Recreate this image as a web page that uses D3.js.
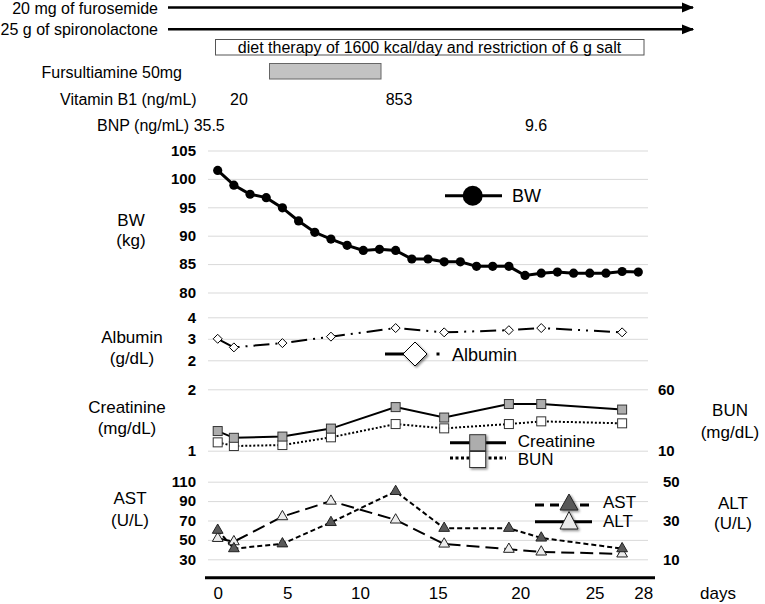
<!DOCTYPE html>
<html><head><meta charset="utf-8">
<script src="https://cdn.jsdelivr.net/npm/d3@7/dist/d3.min.js"></script>
<style>
body{margin:0;background:#fff}
svg{display:block}
text{font-family:"Liberation Sans",Arial,Helvetica,sans-serif;fill:#000}
</style>
</head><body>
<svg id="chart" width="765" height="604"></svg>
<script>
// ---------- data ----------
const sampleIdx = [0,1,2,3,4,5,6,7,8,9,10,11,12,13,14,15,16,17,18,19,20,21,22,23,24,25,26];
const bwValues  = [101.5,98.9,97.3,96.7,94.9,92.6,90.6,89.4,88.3,87.4,87.6,87.4,85.9,85.9,85.4,85.4,84.6,84.6,84.6,83.0,83.4,83.6,83.4,83.4,83.4,83.7,83.6];
const labIdx     = [0,1,4,7,11,14,18,20,25];
const albumin    = [3.0,2.6,2.8,3.1,3.5,3.3,3.4,3.5,3.3];
const creatinine = [1.32,1.21,1.23,1.36,1.71,1.54,1.76,1.76,1.67];
const bun        = [16.8,13.8,14.6,20.9,31.7,28.2,31.7,33.9,32.3];
const ast        = [60,41,46,68,100,62,62,52,41];
const alt        = [20.8,19.1,32,40,30.3,17.9,15.2,13.8,12.8];
const dayTicks   = ["0","5","10","15","20","25","28"];
const dayTickAt  = [0,4.3,8.8,13.6,18.7,23.3,26.3];   // in sample-index units
const bwTicks  = [80,85,90,95,100,105];
const albTicks = [2,3,4];
const crTicks  = [1,2];
const bunTicks = [10,60];
const astTicks = [30,50,70,90,110];
const altTicks = [10,30,50];

// ---------- setup ----------
const svg = d3.select("#chart");
const defs = svg.append("defs");
const flt = defs.append("filter").attr("id","sh").attr("x","-30%").attr("y","-30%").attr("width","170%").attr("height","170%");
flt.append("feDropShadow").attr("dx",1.5).attr("dy",1.5).attr("stdDeviation",1).attr("flood-opacity",0.45);
const mk = defs.append("marker").attr("id","arr").attr("viewBox","0 0 10 10").attr("refX",9).attr("refY",5)
  .attr("markerWidth",5).attr("markerHeight",5).attr("orient","auto").attr("markerUnits","strokeWidth");
mk.append("path").attr("d","M0,1 L10,5 L0,9 Z").attr("fill","#000");

const gL = 208, gR = 648;
const x = d3.scaleLinear().domain([0,26]).range([217.7,638.3]);
const yBW  = d3.scaleLinear().domain([80,105]).range([292.5,150.5]);
const yAlb = d3.scaleLinear().domain([2,4]).range([360.3,317.3]);
const yCr  = d3.scaleLinear().domain([1,2]).range([450.7,389.3]);
const yBun = d3.scaleLinear().domain([10,60]).range([450.7,389.3]);
const yAst = d3.scaleLinear().domain([30,110]).range([559.3,481.7]);
const yAlt = d3.scaleLinear().domain([10,50]).range([559.3,481.7]);

function leftAxis(scale, ticks){
  const g = svg.append("g").attr("transform",`translate(${gL},0)`)
    .call(d3.axisLeft(scale).tickValues(ticks).tickSize(-(gR-gL)).tickPadding(12).tickFormat(d3.format("d")));
  g.select(".domain").remove();
  g.selectAll(".tick line").attr("stroke","#d9d9d9").attr("stroke-width",1);
  g.selectAll(".tick text").attr("font-size",15).attr("font-weight","bold")
    .attr("font-family",'"Liberation Sans",Arial,sans-serif').attr("fill","#000");
}
function rightAxis(scale, ticks, pad){
  const g = svg.append("g").attr("transform",`translate(${gR},0)`)
    .call(d3.axisRight(scale).tickValues(ticks).tickSize(0).tickPadding(pad).tickFormat(d3.format("d")));
  g.select(".domain").remove();
  g.selectAll(".tick text").attr("font-size",15).attr("font-weight","bold")
    .attr("font-family",'"Liberation Sans",Arial,sans-serif').attr("fill","#000");
}
leftAxis(yBW,bwTicks); leftAxis(yAlb,albTicks); leftAxis(yCr,crTicks); leftAxis(yAst,astTicks);
rightAxis(yBun,bunTicks,10); rightAxis(yAlt,altTicks,15);

// x axis
svg.append("line").attr("x1",205).attr("x2",655).attr("y1",577.7).attr("y2",577.7)
  .attr("stroke","#000").attr("stroke-width",3);
const xg = svg.append("g").attr("transform","translate(0,577.7)")
  .call(d3.axisBottom(x).tickValues(dayTickAt).tickSize(0).tickPadding(9).tickFormat((d,i)=>dayTicks[i]));
xg.select(".domain").remove();
xg.selectAll(".tick text").attr("font-size",17).attr("font-family",'"Liberation Sans",Arial,sans-serif').attr("fill","#000");
svg.append("text").attr("x",718).attr("y",593).attr("dy","0.35em").attr("text-anchor","middle").attr("font-size",17).text("days");

// axis titles
function title(lines, cx, cy, gap){
  lines.forEach((t,i)=>svg.append("text").attr("x",cx).attr("y",cy+i*gap).attr("dy","0.35em")
    .attr("text-anchor","middle").attr("font-size",17).text(t));
}
title(["BW","(kg)"],131,220,20);
title(["Albumin","(g/dL)"],132,337,21);
title(["Creatinine","(mg/dL)"],127,407,21);
title(["AST","(U/L)"],130,498,22);
title(["BUN","(mg/dL)"],730,410,22);
title(["ALT","(U/L)"],733,503,20);

// ---------- series ----------
const line = (ys, xs, vals) => d3.line().x((d,i)=>x(xs[i])).y(d=>ys(d))(vals);
const tri = d3.symbol().type(d3.symbolTriangle);

// BW
svg.append("path").attr("d",line(yBW,sampleIdx,bwValues)).attr("fill","none").attr("stroke","#000").attr("stroke-width",3);
svg.append("g").selectAll("circle").data(bwValues).join("circle")
  .attr("cx",(d,i)=>x(sampleIdx[i])).attr("cy",d=>yBW(d)).attr("r",4.6).attr("fill","#000");

// Albumin
svg.append("path").attr("d",line(yAlb,labIdx,albumin)).attr("fill","none").attr("stroke","#000")
  .attr("stroke-width",2).attr("stroke-dasharray","16,6,2,6,2,6");
svg.append("g").selectAll("path").data(albumin).join("path")
  .attr("d","M0,-4.5 L4.5,0 L0,4.5 L-4.5,0 Z")
  .attr("transform",(d,i)=>`translate(${x(labIdx[i])},${yAlb(d)})`)
  .attr("fill","#fff").attr("stroke","#000").attr("stroke-width",1);

// Creatinine & BUN
svg.append("path").attr("d",line(yBun,labIdx,bun)).attr("fill","none").attr("stroke","#000")
  .attr("stroke-width",2).attr("stroke-dasharray","2,2");
svg.append("path").attr("d",line(yCr,labIdx,creatinine)).attr("fill","none").attr("stroke","#000").attr("stroke-width",2);
svg.append("g").selectAll("rect").data(bun).join("rect")
  .attr("x",(d,i)=>x(labIdx[i])-4.5).attr("y",d=>yBun(d)-4.5).attr("width",9).attr("height",9)
  .attr("fill","#fff").attr("stroke","#333").attr("stroke-width",1);
svg.append("g").selectAll("rect").data(creatinine).join("rect")
  .attr("x",(d,i)=>x(labIdx[i])-4.5).attr("y",d=>yCr(d)-4.5).attr("width",9).attr("height",9)
  .attr("fill","#adadad").attr("stroke","#333").attr("stroke-width",1);

// AST & ALT
svg.append("path").attr("d",line(yAlt,labIdx,alt)).attr("fill","none").attr("stroke","#000")
  .attr("stroke-width",2).attr("stroke-dasharray","13,6");
svg.append("path").attr("d",line(yAst,labIdx,ast)).attr("fill","none").attr("stroke","#000")
  .attr("stroke-width",2).attr("stroke-dasharray","5,3");
svg.append("g").selectAll("path").data(alt).join("path")
  .attr("d",tri.size(50)).attr("transform",(d,i)=>`translate(${x(labIdx[i])},${yAlt(d)})`)
  .attr("fill","#ececec").attr("stroke","#222").attr("stroke-width",1);
svg.append("g").selectAll("path").data(ast).join("path")
  .attr("d",tri.size(50)).attr("transform",(d,i)=>`translate(${x(labIdx[i])},${yAst(d)})`)
  .attr("fill","#595959").attr("stroke","#222").attr("stroke-width",1);

// ---------- legends ----------
const lg = svg.append("g");
// BW
lg.append("line").attr("x1",445).attr("x2",502).attr("y1",195.7).attr("y2",195.7).attr("stroke","#000").attr("stroke-width",3);
lg.append("circle").attr("cx",472.7).attr("cy",195.7).attr("r",10).attr("fill","#000");
lg.append("text").attr("x",512).attr("y",196).attr("dy","0.35em").attr("font-size",18).text("BW");
// Albumin
lg.append("line").attr("x1",385).attr("x2",410).attr("y1",354).attr("y2",354).attr("stroke","#000").attr("stroke-width",3);
lg.append("path").attr("d","M403,354 L415,342 L427,354 L415,366 Z").attr("fill","#fff").attr("stroke","#000").attr("stroke-width",1).attr("filter","url(#sh)");
lg.append("rect").attr("x",436.5).attr("y",352.5).attr("width",3).attr("height",3).attr("fill","#000");
lg.append("text").attr("x",452).attr("y",355).attr("dy","0.35em").attr("font-size",18).text("Albumin");
// Creatinine / BUN
lg.append("line").attr("x1",450).attr("x2",506).attr("y1",442.7).attr("y2",442.7).attr("stroke","#000").attr("stroke-width",3);
lg.append("rect").attr("x",469.7).attr("y",434.7).attr("width",16).attr("height",16).attr("fill","#adadad").attr("stroke","#333").attr("filter","url(#sh)");
lg.append("text").attr("x",517.7).attr("y",441).attr("dy","0.35em").attr("font-size",17).text("Creatinine");
lg.append("line").attr("x1",450).attr("x2",506).attr("y1",458).attr("y2",458).attr("stroke","#000").attr("stroke-width",3).attr("stroke-dasharray","3,2.5");
lg.append("rect").attr("x",469.7).attr("y",451.5).attr("width",16).attr("height",16).attr("fill","#fff").attr("stroke","#333").attr("filter","url(#sh)");
lg.append("text").attr("x",517.7).attr("y",459.5).attr("dy","0.35em").attr("font-size",17).text("BUN");
// AST / ALT
lg.append("line").attr("x1",535).attr("x2",592).attr("y1",505).attr("y2",505).attr("stroke","#000").attr("stroke-width",3).attr("stroke-dasharray","9,6");
lg.append("path").attr("d","M569,494 L578,510 L560,510 Z").attr("fill","#595959").attr("stroke","#222").attr("filter","url(#sh)");
lg.append("text").attr("x",603).attr("y",502.5).attr("dy","0.35em").attr("font-size",17).text("AST");
lg.append("line").attr("x1",535).attr("x2",592).attr("y1",521.7).attr("y2",521.7).attr("stroke","#000").attr("stroke-width",3);
lg.append("path").attr("d","M569,511.5 L578,529 L560,529 Z").attr("fill","#ececec").attr("stroke","#222").attr("filter","url(#sh)");
lg.append("text").attr("x",603).attr("y",521.5).attr("dy","0.35em").attr("font-size",17).text("ALT");

// ---------- top annotations ----------
const ann = svg.append("g");
ann.append("text").attr("x",158).attr("y",8).attr("dy","0.35em").attr("text-anchor","end").attr("font-size",16).text("20 mg of furosemide");
ann.append("line").attr("x1",168).attr("x2",693).attr("y1",7.5).attr("y2",7.5).attr("stroke","#000").attr("stroke-width",2.5).attr("marker-end","url(#arr)");
ann.append("text").attr("x",158).attr("y",29).attr("dy","0.35em").attr("text-anchor","end").attr("font-size",16).text("25 g of spironolactone");
ann.append("line").attr("x1",168).attr("x2",693).attr("y1",29.3).attr("y2",29.3).attr("stroke","#000").attr("stroke-width",2.5).attr("marker-end","url(#arr)");
ann.append("rect").attr("x",215.5).attr("y",39.5).attr("width",428.5).attr("height",15.5).attr("fill","#fff").attr("stroke","#555").attr("stroke-width",1);
ann.append("text").attr("x",429.5).attr("y",47.5).attr("dy","0.35em").attr("text-anchor","middle").attr("font-size",16).text("diet therapy of 1600 kcal/day and restriction of 6 g salt");
ann.append("text").attr("x",41.5).attr("y",72).attr("dy","0.35em").attr("font-size",16).text("Fursultiamine 50mg");
ann.append("rect").attr("x",269.5).attr("y",63.5).attr("width",111.5).attr("height",15.5).attr("fill","#c3c3c3").attr("stroke","#666").attr("stroke-width",1);
ann.append("text").attr("x",60).attr("y",99).attr("dy","0.35em").attr("font-size",16).text("Vitamin B1 (ng/mL)");
ann.append("text").attr("x",239).attr("y",99).attr("dy","0.35em").attr("text-anchor","middle").attr("font-size",16).text("20");
ann.append("text").attr("x",399).attr("y",99).attr("dy","0.35em").attr("text-anchor","middle").attr("font-size",16).text("853");
ann.append("text").attr("x",97).attr("y",125).attr("dy","0.35em").attr("font-size",16).text("BNP (ng/mL) 35.5");
ann.append("text").attr("x",536).attr("y",125).attr("dy","0.35em").attr("text-anchor","middle").attr("font-size",16).text("9.6");
</script>
</body></html>
